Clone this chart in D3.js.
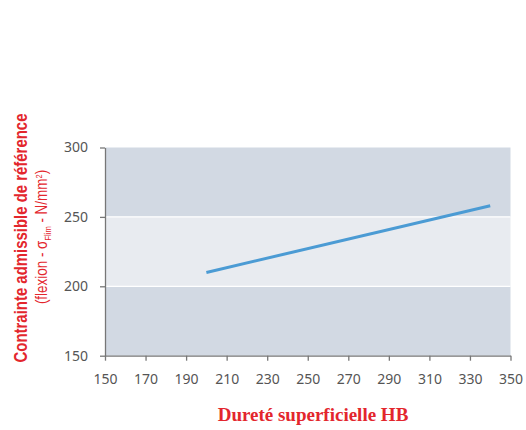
<!DOCTYPE html>
<html>
<head>
<meta charset="utf-8">
<script src="https://cdn.jsdelivr.net/npm/d3@7"></script>
<style>
  body { margin: 0; background: #fff; }
  .tick text { font-family: "Noto Sans", sans-serif; font-size: 14px; fill: #555; }
</style>
</head>
<body>
<svg id="chart" width="526" height="430"></svg>
<script>
// data
var hardness = [200, 340];
var stress = [210, 258];
var xTicks = [150, 170, 190, 210, 230, 250, 270, 290, 310, 330, 350];
var yTicks = [150, 200, 250, 300];
var bands = [[250, 300, '#d2d9e3'], [200, 250, '#e8ebf0'], [150, 200, '#d2d9e3']];

var svg = d3.select('#chart');
var plotL = 105, plotR = 510.5, plotT = 147.5, plotB = 355.7;

var x = d3.scaleLinear().domain([150, 350]).range([plotL, plotR]);
var y = d3.scaleLinear().domain([150, 300]).range([plotB, plotT]);

// background bands
svg.selectAll('rect.band').data(bands).enter().append('rect')
	.attr('class', 'band')
	.attr('x', plotL)
	.attr('width', plotR - plotL)
	.attr('y', function(d){ return y(d[1]); })
	.attr('height', function(d){ return y(d[0]) - y(d[1]); })
	.style('fill', function(d){ return d[2]; });

// white separators
svg.selectAll('line.grid').data([200, 250]).enter().append('line')
	.attr('x1', plotL).attr('x2', plotR)
	.attr('y1', function(d){ return y(d); })
	.attr('y2', function(d){ return y(d); })
	.style('stroke', '#fff').style('stroke-width', 1.2);

// axes
var xAxis = svg.append('g')
	.attr('transform', 'translate(0,' + plotB + ')')
	.call(d3.axisBottom(x).tickValues(xTicks).tickSize(5).tickPadding(13).tickSizeOuter(0));
var yAxis = svg.append('g')
	.attr('transform', 'translate(' + plotL + ',0)')
	.call(d3.axisLeft(y).tickValues(yTicks).tickSize(5).tickPadding(12).tickSizeOuter(0));
[xAxis, yAxis].forEach(function(a){
	a.selectAll('path, line').style('stroke', '#777').style('stroke-width', 1.3);
});

// line
var pts = hardness.map(function(h, i){ return [h, stress[i]]; });
svg.append('path')
	.datum(pts)
	.attr('d', d3.line().x(function(d){ return x(d[0]); }).y(function(d){ return y(d[1]); }))
	.style('fill', 'none')
	.style('stroke', '#4b9bd4')
	.style('stroke-width', 3);

// x title
svg.append('text')
	.attr('x', 313).attr('y', 421)
	.attr('text-anchor', 'middle')
	.style('font-family', '"Liberation Serif", serif')
	.style('font-weight', 'bold')
	.style('font-size', '19px')
	.style('fill', '#e3262d')
	.text('Dureté superficielle HB');

// y titles
svg.append('text')
	.attr('transform', 'translate(27,238) rotate(-90) scale(0.83,1)')
	.attr('text-anchor', 'middle')
	.style('font-family', '"Liberation Sans", sans-serif')
	.style('font-weight', 'bold')
	.style('font-size', '18px')
	.style('fill', '#e3262d')
	.text('Contrainte admissible de référence');

var sub = svg.append('text')
	.attr('transform', 'translate(47,237) rotate(-90) scale(0.84,1)')
	.attr('text-anchor', 'middle')
	.style('font-family', '"Liberation Sans", sans-serif')
	.style('font-size', '16px')
	.style('fill', '#e3262d');
sub.append('tspan').text('(flexion - σ');
sub.append('tspan').attr('dy', 4).style('font-size', '9px').text('Flim');
sub.append('tspan').attr('dy', -4).text(' - N/mm');
sub.append('tspan').attr('dy', -5).style('font-size', '9px').text('2');
sub.append('tspan').attr('dy', 5).text(')');
</script>
</body>
</html>
